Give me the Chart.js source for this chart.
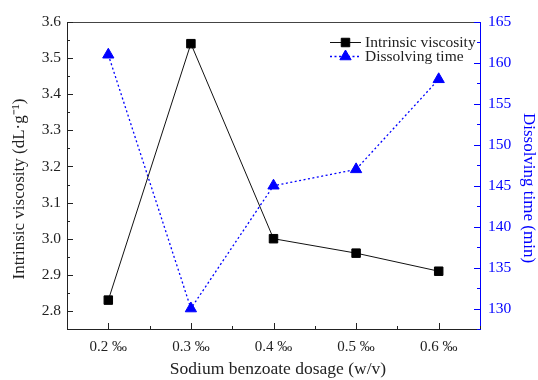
<!DOCTYPE html>
<html>
<head>
<meta charset="utf-8">
<script src="https://cdn.jsdelivr.net/npm/chart.js@4.4.0/dist/chart.umd.min.js"></script>
<style>
  html, body { margin: 0; padding: 0; background: #fff; }
  #wrap { width: 538px; height: 380px; }
</style>
</head>
<body>
<div id="wrap"><canvas id="c" width="538" height="380"></canvas></div>
<script>
// ---- data ----
const dosage = [0.2, 0.3, 0.4, 0.5, 0.6];           // Sodium benzoate dosage (‰)
const viscosity = [2.83, 3.54, 3.00, 2.96, 2.91];   // dL·g⁻¹
const dissolvingTime = [161, 130, 145, 147, 158];   // min
const xTickValues = [0.2, 0.3, 0.4, 0.5, 0.6];
const seriesNames = ['Intrinsic viscosity', 'Dissolving time'];
const axisTitles = ['Sodium benzoate dosage (w/v)', 'Intrinsic viscosity (dL·g⁻¹)', 'Dissolving time (min)'];

const SERIF = '"Liberation Serif", "Times New Roman", serif';
const BLUE = '#0000ff';
const DARK = '#222222';

// axis frame + inward ticks + titles + legend
const framePlugin = {
  id: 'frame',
  afterDraw(chart) {
    const ctx = chart.ctx;
    const a = chart.chartArea;
    const x = chart.scales.x, yl = chart.scales.y, yr = chart.scales.y2;
    ctx.save();
    ctx.lineWidth = 1;
    // top border
    ctx.strokeStyle = '#444';
    ctx.beginPath(); ctx.moveTo(a.left, a.top + 0.5); ctx.lineTo(a.right, a.top + 0.5); ctx.stroke();
    // x ticks
    ctx.strokeStyle = DARK;
    for (let v = 0.15; v <= 0.6501; v += 0.05) {
      const major = Math.abs(Math.round(v * 100) % 10) === 0;
      const px = Math.round(x.getPixelForValue(v)) + 0.5;
      const len = major ? 6 : 3;
      ctx.beginPath(); ctx.moveTo(px, a.bottom); ctx.lineTo(px, a.bottom - len); ctx.stroke();
    }
    // left ticks
    for (let v = 2.75; v <= 3.6001; v += 0.05) {
      const major = Math.abs(Math.round(v * 100) % 10) === 0;
      const py = Math.round(yl.getPixelForValue(v)) + 0.5;
      const len = major ? 6 : 3;
      ctx.beginPath(); ctx.moveTo(a.left, py); ctx.lineTo(a.left + len, py); ctx.stroke();
    }
    // right ticks
    ctx.strokeStyle = BLUE;
    for (let v = 127.5; v <= 165.001; v += 2.5) {
      const major = Math.abs(Math.round(v * 10) % 50) === 0;
      const py = Math.round(yr.getPixelForValue(v)) + 0.5;
      const len = major ? 6 : 3;
      ctx.beginPath(); ctx.moveTo(a.right, py); ctx.lineTo(a.right - len, py); ctx.stroke();
    }
    // axis titles
    ctx.textAlign = 'center';
    ctx.textBaseline = 'middle';
    ctx.font = '17.5px ' + SERIF;
    ctx.fillStyle = DARK;
    ctx.fillText(axisTitles[0], 278, 369);
    ctx.font = '17px ' + SERIF;
    ctx.save(); ctx.translate(20, 189); ctx.rotate(-Math.PI / 2);
    ctx.fillText(axisTitles[1], 0, 0); ctx.restore();
    ctx.fillStyle = BLUE;
    ctx.save(); ctx.translate(528, 188); ctx.rotate(Math.PI / 2);
    ctx.fillText(axisTitles[2], 0, 0); ctx.restore();
    // legend
    const ds = chart.data.datasets;
    const rows = [{y: 42.5, d: ds[0]}, {y: 56.5, d: ds[1]}];
    ctx.font = '15.5px ' + SERIF;
    ctx.textBaseline = 'middle';
    ctx.textAlign = 'left';
    rows.forEach(r => {
      const d = r.d;
      ctx.strokeStyle = d.borderColor;
      ctx.lineWidth = d.borderWidth;
      ctx.setLineDash(d.borderDash || []);
      ctx.beginPath(); ctx.moveTo(330, r.y); ctx.lineTo(361, r.y); ctx.stroke();
      ctx.setLineDash([]);
      ctx.fillStyle = d.pointBackgroundColor;
      ctx.strokeStyle = d.pointBorderColor;
      ctx.lineWidth = 1;
      Chart.helpers.drawPoint(ctx, {pointStyle: d.pointStyle, radius: d.pointRadius, borderWidth: 1, rotation: 0}, 345.5, r.y);
      ctx.fillStyle = DARK;
      ctx.fillText(d.label, 365, r.y + 0.5);
    });
    ctx.restore();
  }
};

const cfg = {
  type: 'line',
  data: {
    datasets: [
      {
        label: seriesNames[0],
        data: dosage.map((x, i) => ({x, y: viscosity[i]})),
        yAxisID: 'y',
        borderColor: '#111',
        borderWidth: 1,
        pointStyle: 'rect',
        pointRadius: 6,
        pointBackgroundColor: '#000',
        pointBorderColor: '#000',
        pointBorderWidth: 1,
        tension: 0,
      },
      {
        label: seriesNames[1],
        data: dosage.map((x, i) => ({x, y: dissolvingTime[i]})),
        yAxisID: 'y2',
        borderColor: BLUE,
        borderWidth: 1.3,
        borderDash: [2, 2.5],
        pointStyle: 'triangle',
        pointRadius: 6.5,
        pointBackgroundColor: BLUE,
        pointBorderColor: BLUE,
        pointBorderWidth: 1,
        tension: 0,
      }
    ]
  },
  options: {
    responsive: false,
    animation: false,
    devicePixelRatio: 1,
    layout: { padding: { top: 22, left: 0, right: 0, bottom: 0 } },
    plugins: { legend: { display: false }, tooltip: { enabled: false } },
    scales: {
      x: {
        type: 'linear',
        min: 0.15, max: 0.65,
        afterBuildTicks(s) { s.ticks = xTickValues.map(v => ({value: v})); },
        afterFit(s) { s.height = 51; },
        grid: { display: false, drawTicks: false },
        border: { display: true, color: DARK, width: 1 },
        ticks: {
          padding: 9,
          color: DARK,
          font: { family: SERIF, size: 15 },
          callback: v => v.toFixed(1) + ' ‰',
        },
        title: { display: false }
      },
      y: {
        position: 'left',
        min: 2.75, max: 3.6,
        afterBuildTicks(s) {
          const t = []; for (let v = 2.8; v <= 3.6001; v += 0.1) t.push({value: Math.round(v * 10) / 10});
          s.ticks = t;
        },
        afterFit(s) { s.width = 67; },
        grid: { display: false, drawTicks: false },
        border: { display: true, color: DARK, width: 1 },
        ticks: {
          padding: 6,
          color: DARK,
          font: { family: SERIF, size: 15.5 },
          callback: v => v.toFixed(1),
        },
        title: { display: false }
      },
      y2: {
        position: 'right',
        min: 127.5, max: 165,
        afterBuildTicks(s) {
          const t = []; for (let v = 130; v <= 165; v += 5) t.push({value: v});
          s.ticks = t;
        },
        afterFit(s) { s.width = 58; },
        grid: { display: false, drawTicks: false },
        border: { display: true, color: BLUE, width: 1 },
        ticks: {
          padding: 8,
          color: BLUE,
          font: { family: SERIF, size: 15.5 },
        },
        title: { display: false }
      }
    }
  },
  plugins: [framePlugin]
};

new Chart(document.getElementById('c'), cfg);
</script>
</body>
</html>
